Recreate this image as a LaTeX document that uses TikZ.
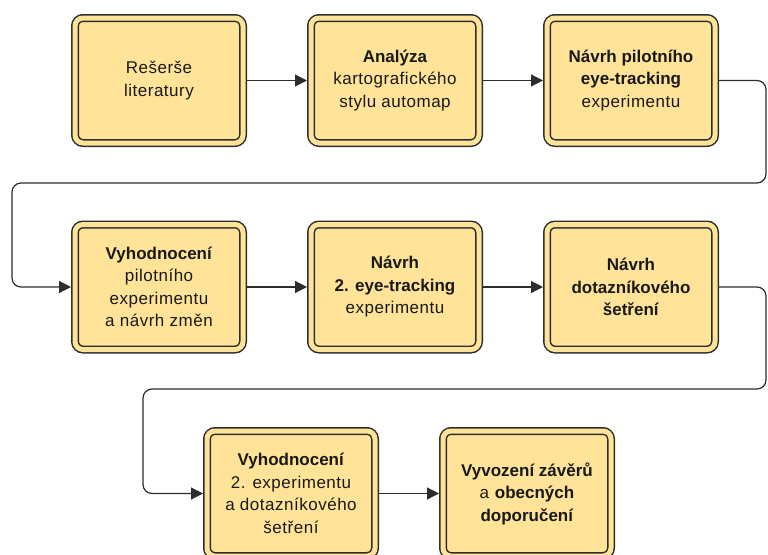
\documentclass[tikz,border=0pt]{standalone}
\usepackage{fontspec}
\setmainfont[LetterSpace=3,BoldFeatures={LetterSpace=0}]{Liberation Sans}
\usetikzlibrary{arrows.meta}
\definecolor{boxfill}{RGB}{255,227,152}
\definecolor{edge}{RGB}{45,45,45}
\definecolor{txt}{RGB}{25,25,25}
\tikzset{
  stepbox/.style={draw=edge, line width=1.5pt, double=boxfill, double distance=5pt,
    fill=boxfill, rounded corners=8pt, minimum width=168pt, minimum height=125pt,
    inner sep=0pt, outer sep=4pt, align=center, text=txt,
    font=\fontsize{17}{22.5}\selectfont},
  flow/.style={draw=edge, line width=1.2pt, rounded corners=9pt,
    -{Triangle[length=12pt,width=12pt]}}
}
\begin{document}
\begin{tikzpicture}[x=1pt,y=-1pt]
\useasboundingbox (0,0) rectangle (768,554);
\clip (0,0) rectangle (768,554);
% row 1
\node[stepbox] (b1) at (159,80.5) {Rešerše\\literatury};
\node[stepbox] (b2) at (395,80.5) {\textbf{Analýza}\\kartografického\\stylu automap};
\node[stepbox] (b3) at (631,80.5) {\textbf{Návrh pilotního}\\\textbf{eye-tracking}\\experimentu};
% row 2
\node[stepbox] (b4) at (159,287) {\textbf{Vyhodnocení}\\pilotního\\experimentu\\a návrh změn};
\node[stepbox] (b5) at (395,287) {\textbf{Návrh}\\\textbf{2. eye-tracking}\\experimentu};
\node[stepbox] (b6) at (631,287) {\textbf{Návrh}\\\textbf{dotazníkového}\\\textbf{šetření}};
% row 3
\node[stepbox] (b7) at (291,493.5) {\textbf{Vyhodnocení}\\2. experimentu\\a dotazníkového\\šetření};
\node[stepbox] (b8) at (527,493.5) {\textbf{Vyvození závěrů}\\a \textbf{obecných}\\\textbf{doporučení}};
% connectors
\draw[flow] (b1) -- (b2);
\draw[flow] (b2) -- (b3);
\draw[flow] (b3.east) -- (766,80.5) -- (766,183) -- (12,183) -- (12,287) -- (b4.west);
\draw[flow] (b4) -- (b5);
\draw[flow] (b5) -- (b6);
\draw[flow] (b6.east) -- (766,287) -- (766,389) -- (143,389) -- (143,493.5) -- (b7.west);
\draw[flow] (b7) -- (b8);
\end{tikzpicture}
\end{document}
